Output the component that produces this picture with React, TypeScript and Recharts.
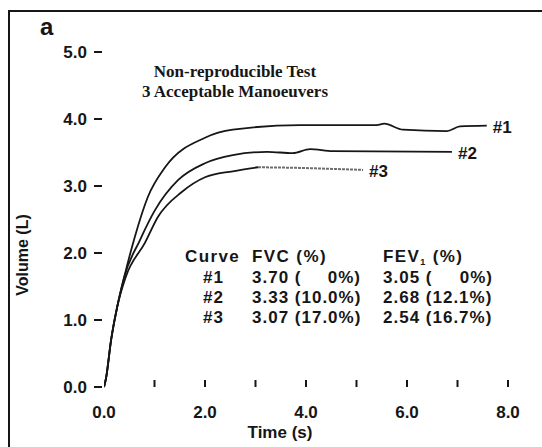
import { Line, LineChart, XAxis, YAxis } from "recharts";

// volume-time curves
const curve1Time = [0, 0.04, 0.14, 0.26, 0.4, 0.61, 0.87, 1.21, 2.0, 2.55, 3.88, 5.4, 5.55, 5.92, 6.79, 7.05, 7.58];
const curve1Vol = [0, 0.13, 0.7, 1.19, 1.64, 2.24, 2.84, 3.28, 3.72, 3.84, 3.91, 3.91, 3.93, 3.84, 3.82, 3.89, 3.9];

const curve2Time = [0, 0.04, 0.14, 0.26, 0.4, 0.71, 1.01, 1.47, 2.0, 2.55, 3.23, 3.74, 4.08, 4.53, 6.89];
const curve2Vol = [0, 0.13, 0.7, 1.19, 1.64, 2.19, 2.64, 3.09, 3.34, 3.46, 3.51, 3.49, 3.55, 3.52, 3.51];

const curve3Time = [0, 0.04, 0.14, 0.26, 0.43, 0.81, 1.07, 1.54, 2.0, 2.55, 3.05];
const curve3Vol = [0, 0.13, 0.7, 1.19, 1.64, 2.15, 2.54, 2.91, 3.13, 3.22, 3.28];
// faint dotted tail of curve 3
const curve3TailTime = [3.05, 3.88, 4.73, 5.13];
const curve3TailVol = [3.28, 3.27, 3.25, 3.24];

const xTicks = [0, 1, 2, 3, 4, 5, 6, 7, 8];
const yTicks = [0, 1, 2, 3, 4, 5];

const curveNames = ["#1", "#2", "#3"];
const fvcValues = ["3.70", "3.33", "3.07"];
const fvcPct = ["0%", "10.0%", "17.0%"];
const fev1Values = ["3.05", "2.68", "2.54"];
const fev1Pct = ["0%", "12.1%", "16.7%"];

const toPoints = (ts: number[], vs: number[]) => ts.map((t, i) => ({ t, v: vs[i] }));

const c1 = toPoints(curve1Time, curve1Vol);
const c2 = toPoints(curve2Time, curve2Vol);
const c3 = toPoints(curve3Time, curve3Vol);
const c3tail = toPoints(curve3TailTime, curve3TailVol);

const sans = "'Liberation Sans', Arial, Helvetica, sans-serif";
const serif = "'Liberation Serif', 'Times New Roman', serif";
const ink = "#161616";

function XTick({ x, y, payload }: any) {
  const v = payload.value as number;
  return (
    <g>
      {v > 0 && <line x1={x} x2={x} y1={y - 7} y2={y} stroke={ink} strokeWidth={2} />}
      {v % 2 === 0 && (
        <text x={x} y={y + 31} textAnchor="middle" fontFamily={sans} fontWeight="bold" fontSize={17} fill={ink}>
          {v.toFixed(1)}
        </text>
      )}
    </g>
  );
}

function YTick({ x, y, payload }: any) {
  const v = payload.value as number;
  return (
    <g>
      <line x1={x - 10} x2={x - 2} y1={y} y2={y} stroke={ink} strokeWidth={2} />
      <text x={x - 17} y={y + 6} textAnchor="end" fontFamily={sans} fontWeight="bold" fontSize={17} fill={ink}>
        {v.toFixed(1)}
      </text>
    </g>
  );
}

const endLabel = (text: string, last: number) => (p: any) =>
  p.index === last ? (
    <text key={text} x={p.x + 6} y={p.y + 7} fontFamily={sans} fontWeight="bold" fontSize={17} fill={ink}>
      {text}
    </text>
  ) : null;

export default function App() {
  const rows = [283, 303, 323];
  return (
    <div style={{ position: "absolute", left: 0, top: 0, width: 542, height: 447, background: "#fff", overflow: "hidden" }}>
      <div
        style={{
          position: "absolute",
          left: 8,
          top: 10,
          width: 560,
          height: 460,
          borderLeft: `2px solid ${ink}`,
          borderTop: `2px solid ${ink}`,
        }}
      />
      <div style={{ position: "absolute", left: 0, top: 0 }}>
        <LineChart width={542} height={447} margin={{ top: 52, right: 34, bottom: 30, left: 44 }}>
          <XAxis
            dataKey="t"
            type="number"
            domain={[0, 8]}
            ticks={xTicks}
            interval={0}
            axisLine={false}
            tickLine={false}
            tickSize={0}
            tickMargin={0}
            height={30}
            tick={<XTick />}
            allowDataOverflow
          />
          <YAxis
            type="number"
            domain={[0, 5]}
            ticks={yTicks}
            interval={0}
            axisLine={false}
            tickLine={false}
            tickSize={0}
            tickMargin={0}
            width={60}
            tick={<YTick />}
          />
          <Line data={c1} dataKey="v" type="monotone" stroke={ink} strokeWidth={1.8} dot={false} activeDot={false}
            isAnimationActive={false} label={endLabel("#1", c1.length - 1)} />
          <Line data={c2} dataKey="v" type="monotone" stroke={ink} strokeWidth={1.8} dot={false} activeDot={false}
            isAnimationActive={false} label={endLabel("#2", c2.length - 1)} />
          <Line data={c3} dataKey="v" type="monotone" stroke={ink} strokeWidth={1.8} dot={false} activeDot={false}
            isAnimationActive={false} />
          <Line data={c3tail} dataKey="v" type="monotone" stroke="#6e6e6e" strokeWidth={2} strokeDasharray="3 1"
            dot={false} activeDot={false} isAnimationActive={false} label={endLabel("#3", c3tail.length - 1)} />
        </LineChart>
      </div>
      <svg width={542} height={447} style={{ position: "absolute", left: 0, top: 0, pointerEvents: "none" }}>
        <text x={40} y={35} fontFamily={sans} fontWeight="bold" fontSize={24} fill={ink}>a</text>
        <text x={235} y={77} textAnchor="middle" fontFamily={serif} fontWeight="bold" fontSize={17} fill={ink}>
          Non-reproducible Test
        </text>
        <text x={235} y={97} textAnchor="middle" fontFamily={serif} fontWeight="bold" fontSize={17} fill={ink}>
          3 Acceptable Manoeuvers
        </text>
        <text
          x={28}
          y={255}
          transform="rotate(-90 28 255)"
          textAnchor="middle"
          fontFamily={sans}
          fontWeight="bold"
          fontSize={16}
          fill={ink}
        >
          Volume (L)
        </text>
        <text x={280} y={438} textAnchor="middle" fontFamily={sans} fontWeight="bold" fontSize={17} fill={ink}>
          Time (s)
        </text>
        <g fontFamily={sans} fontWeight="bold" fontSize={17} fill={ink} letterSpacing={1}>
          <text x={185} y={262} letterSpacing={1.4}>Curve</text>
          <text x={252} y={262} letterSpacing={1.4}>FVC (%)</text>
          <text x={383} y={262} letterSpacing={1.4}>
            FEV
            <tspan fontSize={9} dy={3}>1</tspan>
            <tspan dy={-3}> (%)</tspan>
          </text>
          {curveNames.map((n, i) =>
            i === 0 ? (
              <g key={n}>
                <text x={203} y={rows[i]}>{n}</text>
                <text x={252} y={rows[i]}>{fvcValues[i]} (</text>
                <text x={361} y={rows[i]} textAnchor="end">{fvcPct[i]})</text>
                <text x={383} y={rows[i]}>{fev1Values[i]} (</text>
                <text x={493} y={rows[i]} textAnchor="end">{fev1Pct[i]})</text>
              </g>
            ) : (
              <g key={n}>
                <text x={203} y={rows[i]}>{n}</text>
                <text x={252} y={rows[i]}>{`${fvcValues[i]} (${fvcPct[i]})`}</text>
                <text x={383} y={rows[i]}>{`${fev1Values[i]} (${fev1Pct[i]})`}</text>
              </g>
            )
          )}
        </g>
      </svg>
    </div>
  );
}
